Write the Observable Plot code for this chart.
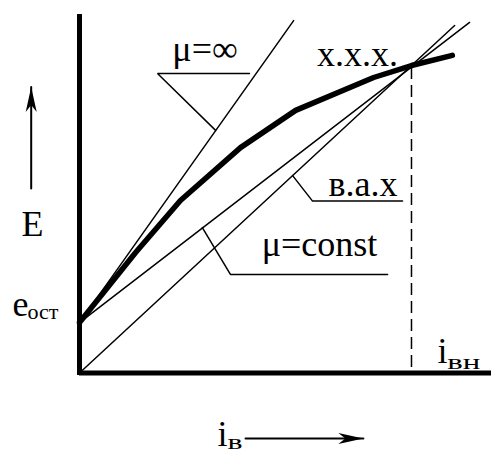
<!DOCTYPE html>
<html>
<head>
<meta charset="utf-8">
<script src="https://cdn.jsdelivr.net/npm/d3@7"></script>
<script src="https://cdn.jsdelivr.net/npm/@observablehq/plot@0.6"></script>
<style>
  html, body { margin: 0; padding: 0; background: #fff; }
</style>
</head>
<body>
<div id="chart"></div>
<script>
// Self-excitation of a DC shunt generator (relative units).
// No-load characteristic х.х.х.: field current i_в vs EMF E.
const noLoadI = [0, 1.69, 3.04, 4.85, 6.51, 8.86, 10, 11.23];
const noLoadE = [1.64, 3.92, 5.61, 7.33, 8.54, 9.61, 10, 10.33];

const residualE = 1.64;   // e_ост
const ratedI = 10;        // i_вн, where the field-circuit line crosses х.х.х.
const ratedE = 10;

// Straight lines: μ=∞ and μ=const start at e_ост, в.а.х passes through the origin
const muInfI = [0, 6.45];
const muInfE = [residualE, 11.46];
const muConstI = [0, 11.75];
const muConstE = [residualE, 11.4];
const fieldI = [0, 11.3];
const fieldE = [0, 11.3];

// Plain labels and their anchors (baseline, centred)
const labelText = ["μ=∞", "х.х.х.", "в.а.х", "μ=const", "E"];
const labelI = [3.78, 8.37, 8.54, 7.23, -1.416];
const labelE = [10.16, 10.0, 5.74, 3.82, 4.44];

// Symbols with subscripts (left-aligned on the baseline)
const symText = ["e", "i", "i"];
const symI = [-2.02, 10.78, 4.16];
const symE = [1.84, 0.34, -2.36];
const subText = ["ост", "вн", "в"];
const subI = [-1.566, 11.08, 4.46];
const subE = [1.74, 0.146, -2.47];

// Leader polylines from each label to its line
const leaderMuInfI = [5.12, 2.35, 4.10];
const leaderMuInfE = [9.74, 9.74, 7.89];
const leaderFieldI = [6.42, 7.02, 9.73];
const leaderFieldE = [6.42, 5.59, 5.59];
const leaderMuConstI = [3.70, 4.55, 9.28];
const leaderMuConstE = [4.73, 3.20, 3.20];

// Axis direction arrows: start and tip
const arrowE = {i: [-1.455, -1.455], e: [6.0, 9.3]};
const arrowI = {i: [5.0, 8.55], e: [-2.13, -2.13]};

// Filled arrowhead; drawn pointing up with its tip at the vector's end
const stealth = {
  draw(context, l) {
    const w = 5.5, h = 25;
    context.moveTo(0, -l);
    context.lineTo(-w, -l + h);
    context.lineTo(0, -l + h * 0.72);
    context.lineTo(w, -l + h);
    context.closePath();
  }
};

const serif = "Liberation Serif";
const font = 36;
const subFont = 21;
const subWidth = {"ост": 31, "вн": 33, "в": 15};

const chart = Plot.plot({
  width: 491,
  height: 453,
  marginLeft: 79,
  marginRight: 0,
  marginTop: 0,
  marginBottom: 80.5,
  x: {domain: [0, 12.41], axis: null},
  y: {domain: [0, 12.114], axis: null},
  style: {background: "#fff", color: "#000"},
  marks: [
    // straight characteristic lines
    Plot.line(muInfI, {x: muInfI, y: muInfE, stroke: "#000", strokeWidth: 1.5}),
    Plot.line(muConstI, {x: muConstI, y: muConstE, stroke: "#000", strokeWidth: 1.5}),
    Plot.line(fieldI, {x: fieldI, y: fieldE, stroke: "#000", strokeWidth: 1.5}),
    // leaders
    Plot.line(leaderMuInfI, {x: leaderMuInfI, y: leaderMuInfE, stroke: "#000", strokeWidth: 1.5, strokeLinejoin: "miter"}),
    Plot.line(leaderFieldI, {x: leaderFieldI, y: leaderFieldE, stroke: "#000", strokeWidth: 1.5, strokeLinejoin: "miter"}),
    Plot.line(leaderMuConstI, {x: leaderMuConstI, y: leaderMuConstE, stroke: "#000", strokeWidth: 1.5, strokeLinejoin: "miter"}),
    // i_вн drop line
    Plot.ruleX([ratedI], {y1: 0.18, y2: ratedE, stroke: "#000", strokeWidth: 1.5, strokeDasharray: "12,6"}),
    // no-load characteristic
    Plot.line(noLoadI, {x: noLoadI, y: noLoadE, stroke: "#000", strokeWidth: 5.5, strokeLinejoin: "round"}),
    // axes
    Plot.ruleX([0], {y1: 0, y2: 11.58, stroke: "#000", strokeWidth: 5, strokeLinecap: "square"}),
    Plot.ruleY([0], {stroke: "#000", strokeWidth: 5}),
    // direction arrows
    Plot.line(arrowE.i, {x: arrowE.i, y: arrowE.e, stroke: "#000", strokeWidth: 2}),
    Plot.vector([0], {x: [arrowE.i[1]], y: [arrowE.e[1]], length: 25, rotate: 0, anchor: "end", shape: stealth, fill: "#000", stroke: "none"}),
    Plot.line(arrowI.i, {x: arrowI.i, y: arrowI.e, stroke: "#000", strokeWidth: 2}),
    Plot.vector([0], {x: [arrowI.i[1]], y: [arrowI.e[1]], length: 25, rotate: 90, anchor: "end", shape: stealth, fill: "#000", stroke: "none"}),
    // labels
    Plot.text(labelText, {x: labelI, y: labelE, text: d => d, fontFamily: serif, fontSize: font, lineAnchor: "bottom", textAnchor: "middle", fill: "#000"}),
    Plot.text(symText, {x: symI, y: symE, text: d => d, fontFamily: serif, fontSize: font, lineAnchor: "bottom", textAnchor: "start", fill: "#000"}),
    Plot.text(subText, {x: subI, y: subE, text: d => d, fontFamily: serif, fontSize: subFont, lineAnchor: "bottom", textAnchor: "start", fill: "#000"})
  ]
});

// widen the subscripts to their drawn width
d3.select(chart).selectAll("g[font-size='" + subFont + "'] text, text[font-size='" + subFont + "']").each(function () {
  const w = subWidth[this.textContent];
  if (w !== undefined) {
    d3.select(this).attr("textLength", w).attr("lengthAdjust", "spacingAndGlyphs");
  }
});

document.getElementById("chart").appendChild(chart);
</script>
</body>
</html>
